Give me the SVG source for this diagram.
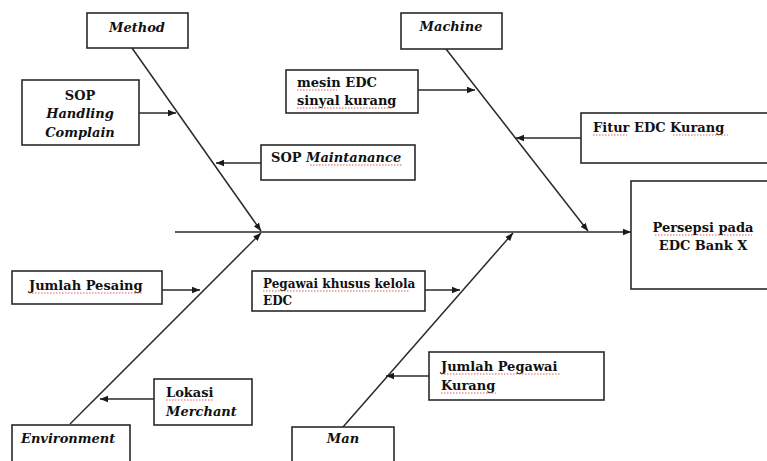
<svg xmlns="http://www.w3.org/2000/svg" width="767" height="461" viewBox="0 0 767 461">
<defs>
<marker id="ah" viewBox="0 0 10 10" refX="10" refY="5" markerWidth="8" markerHeight="8" markerUnits="userSpaceOnUse" orient="auto">
<path d="M0,1 L10,5 L0,9 z" fill="#1a1a1a"/>
</marker>
<style>
.box{fill:#fff;stroke:#2a2a2a;stroke-width:1.6}
.arr{fill:none;stroke:#2a2a2a;stroke-width:1.5;marker-end:url(#ah)}
.t{font-family:'DejaVu Serif','Liberation Serif',serif;font-weight:bold;font-size:13px;fill:#111}
.i{font-style:italic}
.c{text-anchor:middle}
.sq{fill:none;stroke:#e03030;stroke-width:0.8;stroke-dasharray:1.5 1.5}
</style>
</defs>
<rect width="767" height="461" fill="#fff"/>

<g id="connectors">
<line class="arr" x1="175" y1="232" x2="631" y2="232"/>
<line class="arr" x1="132" y1="48" x2="261" y2="231"/>
<line class="arr" x1="446" y1="49" x2="588" y2="231"/>
<line class="arr" x1="70" y1="424" x2="261" y2="233"/>
<line class="arr" x1="343" y1="427" x2="513" y2="233"/>
<line class="arr" x1="139" y1="113" x2="176" y2="113"/>
<line class="arr" x1="261" y1="163" x2="216" y2="163"/>
<line class="arr" x1="418" y1="90" x2="475" y2="90"/>
<line class="arr" x1="581" y1="138" x2="516" y2="138"/>
<line class="arr" x1="162" y1="290" x2="200" y2="290"/>
<line class="arr" x1="154" y1="399" x2="100" y2="399"/>
<line class="arr" x1="425" y1="290" x2="460" y2="290"/>
<line class="arr" x1="429" y1="376" x2="386" y2="376"/>
</g>

<g id="method">
<rect class="box" x="87" y="13" width="101" height="35"/>
<text class="t i c" x="137" y="32">Method</text>
</g>
<g id="machine">
<rect class="box" x="401" y="13" width="101" height="36"/>
<text class="t i c" x="451" y="31">Machine</text>
</g>
<g id="sop-handling">
<rect class="box" x="22" y="80" width="117" height="65"/>
<text class="t c" x="80" y="100">SOP</text>
<text class="t i c" x="80" y="118">Handling</text>
<text class="t i c" x="80" y="137">Complain</text>
</g>
<g id="mesin-edc">
<rect class="box" x="286" y="70" width="132" height="43"/>
<text class="t" x="297" y="87">mesin EDC</text>
<text class="t" x="297" y="105">sinyal kurang</text>
<path class="sq" d="M297,90 H337 M297,108 H392"/>
</g>
<g id="sop-maintanance">
<rect class="box" x="261" y="145" width="154" height="35"/>
<text class="t" x="271" y="162">SOP <tspan class="i">Maintanance</tspan></text>
<path class="sq" d="M310,165 H402"/>
</g>
<g id="fitur-edc">
<rect class="box" x="581" y="113" width="190" height="50"/>
<text class="t" x="593" y="132">Fitur EDC Kurang</text>
<path class="sq" d="M593,135 H627 M673,135 H728"/>
</g>
<g id="persepsi">
<rect class="box" x="631" y="181" width="140" height="108"/>
<text class="t c" x="703" y="232">Persepsi pada</text>
<text class="t c" x="703" y="250">EDC Bank X</text>
<path class="sq" d="M655,235 H752"/>
</g>
<g id="jumlah-pesaing">
<rect class="box" x="12" y="271" width="150" height="33"/>
<text class="t" x="29" y="290">Jumlah Pesaing</text>
<path class="sq" d="M29,293 H143"/>
</g>
<g id="pegawai-khusus">
<rect class="box" x="252" y="271" width="173" height="40"/>
<text class="t" x="263" y="288" style="font-size:12px">Pegawai khusus kelola</text>
<text class="t" x="263" y="305" style="font-size:12px">EDC</text>
<path class="sq" d="M263,291 H410"/>
</g>
<g id="lokasi-merchant">
<rect class="box" x="154" y="379" width="98" height="46"/>
<text class="t" x="166" y="397">Lokasi</text>
<text class="t i" x="166" y="416">Merchant</text>
<path class="sq" d="M166,400 H213"/>
</g>
<g id="jumlah-pegawai">
<rect class="box" x="429" y="352" width="175" height="48"/>
<text class="t" x="441" y="371">Jumlah Pegawai</text>
<text class="t" x="441" y="390">Kurang</text>
<path class="sq" d="M441,374 H560 M441,393 H496"/>
</g>
<g id="environment">
<rect class="box" x="12" y="425" width="118" height="40"/>
<text class="t i" x="21" y="443">Environment</text>
</g>
<g id="man">
<rect class="box" x="292" y="427" width="102" height="38"/>
<text class="t i c" x="343" y="443">Man</text>
</g>
</svg>
